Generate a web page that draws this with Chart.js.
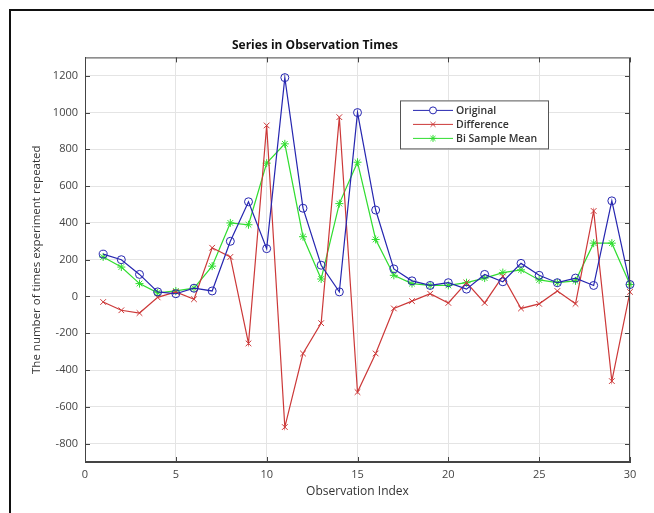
<!DOCTYPE html>
<html>
<head>
<meta charset="utf-8">
<script src="https://cdn.jsdelivr.net/npm/chart.js"></script>
<style>
body{margin:0;background:#fff;}
#wrap{position:relative;width:654px;height:513px;overflow:hidden;}
#frame{position:absolute;left:9px;top:9px;width:700px;height:600px;border-left:2px solid #111;border-top:2px solid #111;}
canvas{position:absolute;left:0;top:0;}
</style>
</head>
<body>
<div id="wrap">
<div id="frame"></div>
<canvas id="chart" width="654" height="513"></canvas>
</div>
<script>
// observation index 1..30
var obsIndex = [1,2,3,4,5,6,7,8,9,10,11,12,13,14,15,16,17,18,19,20,21,22,23,24,25,26,27,28,29,30];
var original = [230,200,120,25,15,45,30,300,515,260,1190,480,170,25,1000,470,150,85,60,75,40,120,80,180,115,75,100,60,520,65];
var difference = [-30,-75,-90,-5,25,-15,265,215,-255,930,-710,-310,-145,975,-520,-310,-65,-25,15,-35,75,-35,110,-65,-40,30,-40,465,-460,25];
var biMean = [215,160,70,20,30,45,165,400,390,725,830,325,95,505,730,310,115,70,60,60,75,100,130,145,90,75,85,290,290,65];
var yTicks = [-800,-600,-400,-200,0,200,400,600,800,1000,1200];
var seriesNames = ["Original","Difference","Bi Sample Mean"];
var colors = ["#2626b0","#cc3838","#30dd30"];
var markers = ["circle","crossRot","star"];

function pts(arr){
	var out=[];
	for(var i=0;i<arr.length;i++){ out.push({x:obsIndex[i],y:arr[i]}); }
	return out;
}

var font = "'Open Sans', 'DejaVu Sans', sans-serif";

// box, inward ticks and legend, matlab style
var boxPlugin = {
	id:'boxPlugin',
	afterDraw:function(chart){
		var ctx=chart.ctx, a=chart.chartArea;
		var xs=chart.scales.x, ys=chart.scales.y;
		ctx.save();
		ctx.strokeStyle='#444';
		ctx.lineWidth=1;
		ctx.strokeRect(a.left+0.5,a.top+0.5,a.right-a.left-1,a.bottom-a.top-1);
		ctx.beginPath();
		ys.ticks.forEach(function(t){
			var y=Math.round(ys.getPixelForValue(t.value))+0.5;
			ctx.moveTo(a.left,y);ctx.lineTo(a.left+5,y);
			ctx.moveTo(a.right,y);ctx.lineTo(a.right-5,y);
		});
		xs.ticks.forEach(function(t){
			var x=Math.round(xs.getPixelForValue(t.value))+0.5;
			ctx.moveTo(x,a.bottom);ctx.lineTo(x,a.bottom-5);
			ctx.moveTo(x,a.top);ctx.lineTo(x,a.top+5);
		});
		ctx.stroke();

		// legend box
		var lx=a.left+315, ly=a.top+43, lw=148, lh=48;
		ctx.fillStyle='#fff';
		ctx.fillRect(lx,ly,lw,lh);
		ctx.strokeStyle='#555';
		ctx.strokeRect(lx+0.5,ly+0.5,lw,lh);
		ctx.font="600 10.5px "+font;
		ctx.textBaseline='middle';
		for(var i=0;i<seriesNames.length;i++){
			var ry=ly+10+i*14;
			ctx.strokeStyle=colors[i];
			ctx.lineWidth=1;
			ctx.beginPath();ctx.moveTo(lx+13,ry);ctx.lineTo(lx+53,ry);ctx.stroke();
			Chart.helpers.drawPoint(ctx,{pointStyle:markers[i],radius:3.5,borderWidth:1},lx+33,ry);
			ctx.fillStyle='#333';
			ctx.fillText(seriesNames[i],lx+56,ry+1);
		}
		ctx.restore();
	}
};

var sets=[original,difference,biMean];
var datasets=[];
for(var i=0;i<sets.length;i++){
	datasets.push({
		label:seriesNames[i],
		data:pts(sets[i]),
		borderColor:colors[i],
		backgroundColor:'rgba(0,0,0,0)',
		pointBorderColor:colors[i],
		pointBackgroundColor:'rgba(0,0,0,0)',
		borderWidth:1.2,
		pointRadius:4,
		pointBorderWidth:1,
		pointStyle:markers[i],
		fill:false,
		clip:false,
		tension:0
	});
}

new Chart(document.getElementById("chart"),{
	type:'line',
	data:{datasets:datasets},
	plugins:[boxPlugin],
	options:{
		responsive:false,
		animation:false,
		layout:{padding:{left:0,right:24,top:0,bottom:0}},
		plugins:{
			legend:{display:false},
			tooltip:{enabled:false},
			title:{
				display:true,
				text:'Series in Observation Times',
				color:'#111',
				font:{family:font,size:12,weight:'bold',lineHeight:1.2},
				padding:{top:38,bottom:5}
			}
		},
		scales:{
			x:{
				type:'linear',
				min:0,max:30,
				ticks:{stepSize:5,color:'#444',padding:6,font:{family:font,size:11}},
				grid:{color:'#e4e4e4',drawTicks:false},
				border:{color:'#444'},
				title:{display:true,text:'Observation Index',color:'#333',font:{family:font,size:12,lineHeight:1.2},padding:{top:0,bottom:14}},
				afterFit:function(s){ s.height=51; }
			},
			y:{
				min:-900,max:1300,
				afterBuildTicks:function(s){ s.ticks=yTicks.map(function(v){return {value:v};}); },
				ticks:{color:'#444',padding:7,font:{family:font,size:11},callback:function(v){return String(v);}},
				grid:{color:'#e4e4e4',drawTicks:false},
				border:{color:'#444'},
				title:{display:true,text:'The number of times experiment repeated',color:'#333',font:{family:font,size:11.5,lineHeight:1.2},padding:{top:30,bottom:0}},
				afterFit:function(s){ s.width=85; }
			}
		}
	}
});
</script>
</body>
</html>
